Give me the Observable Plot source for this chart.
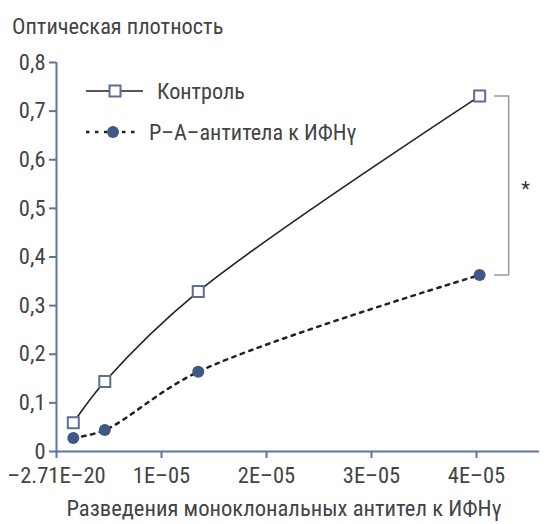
<!DOCTYPE html>
<html>
<head>
<meta charset="utf-8">
<script src="https://cdn.jsdelivr.net/npm/d3@7"></script>
<script src="https://cdn.jsdelivr.net/npm/@observablehq/plot@0.6"></script>
<style>
  html, body { margin: 0; padding: 0; background: #fff; }
  #wrap { position: relative; width: 549px; height: 524px; font-family: "Roboto Condensed", "Liberation Sans Narrow", "DejaVu Sans Condensed", sans-serif; color: #444; }
  #title { position: absolute; left: 12px; top: 13px; font-size: 22.4px; line-height: 26px; white-space: nowrap; }
  #chart { position: absolute; left: 0; top: 0; }
  #legend { position: absolute; left: 84px; top: 78px; font-size: 22.2px; line-height: 26px; }
  .row { display: flex; align-items: center; height: 26px; margin-bottom: 15px; white-space: nowrap; }
</style>
</head>
<body>
<div id="wrap">
  <div id="chart"></div>
  <div id="title"></div>
  <div id="legend"></div>
</div>
<script>
// ---- data ----
const titleText = "Оптическая плотность";
const xLabel = "Разведения моноклональных антител к ИФНγ";
const seriesNames = ["Контроль", "Р–А–антитела к ИФНγ"];
const dilutions = [1.6e-6, 4.6e-6, 1.35e-5, 4.03e-5];
const control = [0.059, 0.144, 0.329, 0.731];
const antibodies = [0.028, 0.044, 0.164, 0.363];
const xTicks = [0, 1e-5, 2e-5, 3e-5, 4e-5];
const xTickLabels = ["–2.71E–20", "1E–05", "2E–05", "3E–05", "4E–05"];
const yTicks = [0, 0.1, 0.2, 0.3, 0.4, 0.5, 0.6, 0.7, 0.8];
const yTickLabels = ["0", "0,1", "0,2", "0,3", "0,4", "0,5", "0,6", "0,7", "0,8"];
const significance = "*";

// ---- styling ----
const fontStack = "'Roboto Condensed', 'Liberation Sans Narrow', 'DejaVu Sans Condensed', sans-serif";
const axisColor = "#5a77a0";
const lineColor = "#222";
const markerStroke = "#5b6f95";
const markerFill = "#3e5986";
const textColor = "#444";
const bracketColor = "#9a9a9a";

const controlData = dilutions.map((x, i) => ({x, y: control[i]}));
const abData = dilutions.map((x, i) => ({x, y: antibodies[i]}));
const last = dilutions.length - 1;
const bracketData = [{x: dilutions[last], y1: antibodies[last], y2: control[last]}];
const armShape = { draw(context, l) { context.moveTo(0, 0); context.lineTo(0, -l); } };

const plot = Plot.plot({
  width: 549,
  height: 524,
  marginLeft: 56,
  marginRight: 10,
  marginTop: 62,
  marginBottom: 73,
  style: { fontFamily: fontStack, fontSize: "22px", color: textColor, background: "transparent" },
  x: { domain: [0, 4.6e-5] },
  y: { domain: [0, 0.8] },
  marks: [
    Plot.axisY(yTicks, { tickFormat: d => yTickLabels[yTicks.indexOf(d)], tickSize: 7, tickPadding: 4, stroke: axisColor, strokeWidth: 2, fill: textColor, label: null, fontSize: 22.5 }),
    Plot.axisX(xTicks, { tickFormat: d => xTickLabels[xTicks.indexOf(d)], tickSize: 7, tickPadding: 9, stroke: axisColor, strokeWidth: 2, fill: textColor, label: null, fontSize: 22.5 }),
    Plot.text([xLabel], { text: d => d, frameAnchor: "bottom", dy: 64, dx: -14, fontSize: 22.6, fill: textColor }),
    Plot.ruleX([0], { y1: 0, y2: 0.8, stroke: axisColor, strokeWidth: 2 }),
    Plot.ruleY([0], { stroke: axisColor, strokeWidth: 2 }),
    Plot.line(abData, { x: "x", y: "y", curve: "catmull-rom", stroke: lineColor, strokeWidth: 2.5, strokeDasharray: "3.5,5.5" }),
    Plot.line(controlData, { x: "x", y: "y", curve: "catmull-rom", stroke: lineColor, strokeWidth: 1.6 }),
    Plot.dot(abData, { x: "x", y: "y", r: 6, fill: markerFill, stroke: "none" }),
    Plot.dot(controlData, { x: "x", y: "y", symbol: "square", r: 6.2, fill: "white", stroke: markerStroke, strokeWidth: 2 }),
    Plot.ruleX(bracketData, { x: "x", y1: "y1", y2: "y2", dx: 29, stroke: bracketColor, strokeWidth: 1.5 }),
    Plot.vector([control[last], antibodies[last]], { x: dilutions[last], y: d => d, length: 14, rotate: 90, anchor: "start", shape: armShape, dx: 15, stroke: bracketColor, strokeWidth: 1.5 }),
    Plot.text(bracketData, { x: "x", y: d => (d.y1 + d.y2) / 2, text: () => significance, dx: 46, dy: 4, fontSize: 20, fill: "#333" })
  ]
});
document.getElementById("chart").appendChild(plot);
document.getElementById("title").textContent = titleText;

// legend
const legend = document.getElementById("legend");
seriesNames.forEach((name, i) => {
  const row = document.createElement("div");
  row.className = "row";
  const sym = i === 0
    ? `<svg width="60" height="16" style="margin-right:13px"><line x1="2" y1="8" x2="59" y2="8" stroke="${lineColor}" stroke-width="1.6"/><rect x="25.5" y="2.5" width="11" height="11" fill="white" stroke="${markerStroke}" stroke-width="2"/></svg>`
    : `<svg width="60" height="16" style="margin-right:5px"><line x1="2" y1="8" x2="56" y2="8" stroke="${lineColor}" stroke-width="2.5" stroke-dasharray="3.5,5.5"/><circle cx="29" cy="8" r="6" fill="${markerFill}"/></svg>`;
  row.innerHTML = sym + `<span>${name}</span>`;
  legend.appendChild(row);
});
</script>
</body>
</html>
